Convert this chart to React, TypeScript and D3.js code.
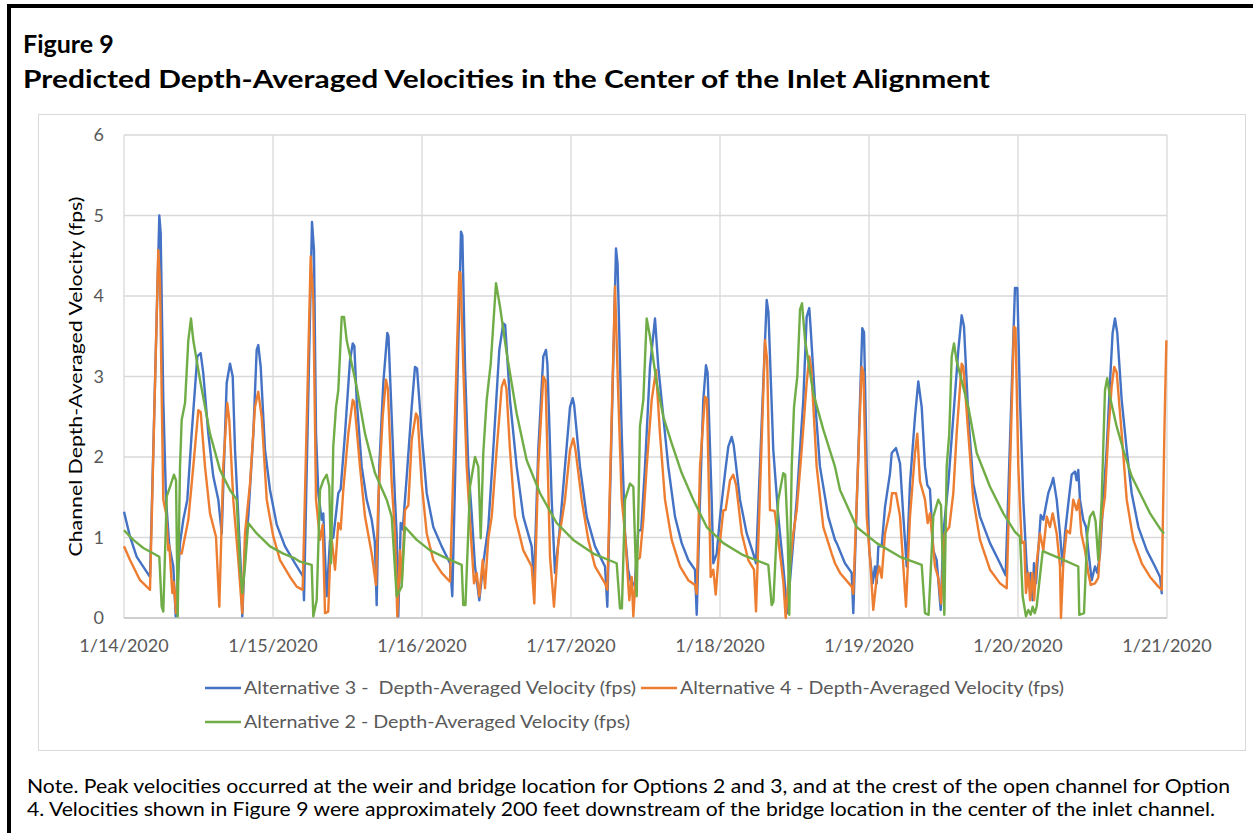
import React from 'react';
import * as d3 from 'd3';

// hours after 1/14/2020 00:00, velocity (fps)
const alt3Points: [number, number][] = [
  [0, 1.32], [0.97, 1.01], [2.05, 0.76], [4.19, 0.51], [5.69, 5.0], [5.91, 4.78], [6.33, 2.71], [6.77, 1.47],
  [7.3, 0.89], [7.94, 0.64], [8.33, 0.02], [9.02, 0.93], [9.55, 1.22], [10.2, 1.47], [10.9, 2.29], [11.81, 3.25],
  [12.35, 3.29], [12.77, 3.04], [13.58, 2.29], [14.38, 1.76], [15.19, 1.47], [15.74, 1.05], [16.54, 2.92], [17.07, 3.16],
  [17.51, 3.0], [17.88, 2.09], [18.41, 1.26], [18.8, 0.64], [19.05, 0.02], [19.49, 0.84], [20.02, 1.26], [20.83, 2.29],
  [21.37, 3.33], [21.63, 3.39], [22.02, 3.12], [22.71, 2.09], [23.52, 1.59], [24.6, 1.16], [25.93, 0.89], [27.54, 0.68],
  [28.88, 0.51], [28.99, 0.22], [30.28, 4.92], [30.6, 4.57], [30.93, 2.29], [31.3, 1.55], [31.84, 1.22], [32.1, 1.3],
  [32.65, 0.27], [33.18, 0.97], [33.71, 1.0], [34.52, 1.55], [34.9, 1.6], [35.6, 2.29], [36.4, 3.2], [36.84, 3.41],
  [37.1, 3.38], [37.48, 2.71], [38.29, 1.88], [39.09, 1.47], [39.9, 1.22], [40.4, 0.95], [40.7, 0.16], [41.12, 1.88],
  [41.77, 2.92], [42.41, 3.54], [42.6, 3.5], [43.12, 2.5], [43.65, 1.47], [43.92, 1.05], [44.18, 0.02], [44.57, 1.18],
  [44.9, 1.1], [45.54, 1.76], [46.34, 2.62], [46.87, 3.12], [47.2, 3.1], [47.95, 2.29], [48.76, 1.55], [49.82, 1.13],
  [51.17, 0.89], [52.51, 0.68], [52.88, 0.27], [54.28, 4.8], [54.5, 4.75], [54.93, 3.12], [55.46, 1.88], [56.0, 1.3],
  [56.54, 0.64], [57.23, 0.22], [57.87, 0.68], [58.68, 1.13], [59.48, 2.09], [60.45, 3.33], [61.09, 3.66], [61.4, 3.64],
  [62.17, 2.71], [63.25, 1.88], [64.32, 1.26], [65.67, 0.89], [66.04, 0.43], [66.73, 2.09], [67.54, 3.25], [67.97, 3.33],
  [68.2, 3.15], [68.89, 1.47], [69.42, 0.56], [70.12, 1.05], [71.03, 1.88], [71.84, 2.62], [72.27, 2.73], [72.5, 2.65],
  [73.45, 1.88], [74.53, 1.26], [75.87, 0.89], [77.48, 0.64], [77.85, 0.14], [79.25, 4.59], [79.5, 4.4], [80.17, 2.29],
  [80.7, 1.05], [81.2, 0.6], [81.78, 0.39], [82.3, 0.45], [82.84, 1.09], [83.3, 1.09], [83.92, 1.88], [84.72, 3.12],
  [85.53, 3.72], [86.06, 3.12], [86.87, 2.5], [87.67, 1.88], [88.75, 1.26], [89.83, 0.93], [90.89, 0.72], [91.97, 0.6],
  [92.25, 0.04], [92.78, 1.47], [93.31, 2.71], [93.74, 3.14], [94.0, 3.05], [94.66, 1.47], [94.92, 0.68], [95.47, 0.8],
  [96.01, 1.26], [96.81, 1.8], [97.34, 2.13], [97.88, 2.25], [98.2, 2.15], [99.22, 1.47], [100.3, 1.05], [101.36, 0.8],
  [101.8, 0.68], [103.52, 3.95], [103.8, 3.8], [104.58, 2.09], [105.39, 1.26], [106.19, 0.64], [106.84, 0.06], [107.2, 0.4],
  [108.36, 1.47], [109.42, 2.71], [109.96, 3.74], [110.38, 3.85], [110.6, 3.6], [111.3, 2.71], [112.1, 1.88], [113.44, 1.26],
  [114.52, 0.97], [114.8, 0.93], [116.13, 0.68], [117.21, 0.56], [117.47, 0.06], [118.92, 3.6], [119.2, 3.55], [119.63, 1.88],
  [120.05, 0.84], [120.6, 0.43], [120.96, 0.64], [121.24, 0.43], [121.5, 0.89], [122.04, 0.89], [122.58, 1.38], [123.39, 1.8],
  [123.66, 2.05], [124.35, 2.11], [125.0, 1.92], [125.53, 1.26], [126.07, 0.64], [126.6, 1.67], [127.41, 2.5], [127.94, 2.94],
  [128.49, 2.62], [129.02, 1.88], [129.39, 1.65], [129.82, 1.6], [130.36, 0.84], [130.9, 0.72], [131.55, 0.1], [131.97, 1.05],
  [132.77, 1.67], [133.58, 2.5], [134.39, 3.33], [134.93, 3.76], [135.3, 3.62], [136.0, 2.5], [136.8, 1.67], [137.88, 1.26],
  [139.49, 0.93], [141.1, 0.68], [142.01, 0.53], [143.51, 4.1], [143.89, 4.1], [144.32, 2.71], [144.85, 1.47], [145.4, 0.64],
  [145.67, 0.43], [146.04, 0.56], [146.36, 0.22], [146.57, 0.68], [146.9, 0.43], [147.27, 0.84], [147.66, 1.28], [148.08, 1.22],
  [148.51, 1.4], [148.88, 1.55], [149.42, 1.67], [149.68, 1.74], [150.23, 1.47], [150.76, 1.05], [151.2, 0.64], [151.57, 1.05],
  [152.1, 1.42], [152.65, 1.78], [153.18, 1.82], [153.44, 1.71], [153.71, 1.84], [153.98, 1.47], [154.51, 1.22], [154.95, 1.13],
  [155.32, 0.84], [155.87, 0.47], [156.4, 0.64], [156.77, 0.56], [157.21, 0.8], [157.74, 1.47], [158.28, 2.09], [158.81, 2.92],
  [159.24, 3.54], [159.62, 3.72], [159.99, 3.54], [160.7, 2.71], [161.51, 2.09], [162.31, 1.55], [163.39, 1.13], [164.74, 0.84],
  [166.07, 0.64], [166.88, 0.51], [167.15, 0.31], [167.3, 0.3],
];

const alt4Points: [number, number][] = [
  [0, 0.89], [0.97, 0.72], [2.58, 0.47], [4.19, 0.35], [5.52, 4.57], [5.8, 4.16], [6.33, 1.47], [6.77, 1.3],
  [7.14, 0.84], [7.3, 0.9], [7.78, 0.31], [8.0, 0.45], [8.38, 0.06], [8.75, 0.8], [9.29, 0.8], [10.36, 1.22],
  [11.16, 1.88], [11.97, 2.58], [12.35, 2.56], [13.05, 1.88], [13.85, 1.3], [14.82, 1.01], [15.35, 0.14], [15.99, 1.88],
  [16.64, 2.67], [16.96, 2.46], [17.6, 1.47], [18.41, 0.72], [18.8, 0.31], [19.05, 0.06], [19.49, 1.05], [20.3, 1.67],
  [21.1, 2.62], [21.63, 2.81], [22.18, 2.5], [22.99, 1.47], [24.05, 1.01], [25.13, 0.72], [26.74, 0.51], [27.82, 0.39],
  [28.78, 0.35], [30.07, 4.49], [30.49, 3.95], [30.93, 1.47], [31.57, 0.97], [32.0, 1.16], [32.38, 0.06], [32.9, 0.08],
  [33.18, 0.68], [33.5, 0.95], [33.99, 0.6], [34.52, 1.18], [34.9, 1.1], [35.32, 1.59], [36.13, 2.29], [36.84, 2.71],
  [37.1, 2.68], [38.01, 1.88], [38.82, 1.26], [39.9, 0.8], [40.59, 0.41], [40.96, 1.47], [41.67, 2.5], [42.2, 2.96],
  [42.5, 2.85], [43.12, 1.67], [43.65, 1.05], [44.02, 0.02], [44.46, 0.84], [44.73, 0.43], [45.26, 1.34], [45.8, 1.4],
  [46.34, 2.21], [47.03, 2.54], [47.3, 2.5], [47.95, 1.67], [48.76, 1.05], [49.82, 0.72], [51.17, 0.56], [52.51, 0.45],
  [54.01, 4.3], [54.2, 4.28], [54.65, 3.12], [55.2, 1.88], [55.73, 1.2], [56.38, 0.43], [56.81, 0.56], [57.23, 0.27],
  [57.78, 0.72], [58.15, 0.37], [58.68, 0.99], [59.23, 1.26], [60.03, 2.09], [60.84, 2.87], [61.25, 2.96], [61.6, 2.85],
  [62.17, 2.09], [62.98, 1.26], [64.32, 0.84], [65.67, 0.64], [66.09, 0.18], [66.73, 1.88], [67.54, 3.0], [67.9, 2.95],
  [68.62, 0.76], [69.26, 0.14], [69.95, 0.93], [71.03, 1.47], [71.84, 2.09], [72.37, 2.23], [72.7, 2.1], [73.72, 1.47],
  [74.79, 0.97], [75.87, 0.64], [77.48, 0.43], [77.85, 0.35], [79.09, 4.12], [79.6, 2.8], [80.17, 1.47], [80.7, 1.05],
  [81.39, 0.22], [81.78, 0.51], [82.04, 0.02], [82.58, 0.72], [83.1, 0.75], [83.65, 1.22], [84.19, 1.88], [85.0, 2.71],
  [85.69, 3.08], [86.33, 2.29], [87.14, 1.47], [88.22, 0.97], [89.55, 0.64], [90.89, 0.47], [91.97, 0.41], [92.25, 0.3],
  [92.78, 1.88], [93.58, 2.75], [93.9, 2.72], [94.5, 0.51], [94.92, 0.6], [95.31, 0.29], [95.8, 0.8], [96.54, 1.34],
  [96.9, 1.34], [97.61, 1.71], [98.14, 1.78], [98.6, 1.65], [99.5, 1.05], [100.56, 0.72], [101.48, 0.6], [101.8, 0.08],
  [103.25, 3.45], [103.6, 3.2], [104.05, 1.34], [104.8, 1.33], [105.66, 0.8], [106.2, 0.45], [106.58, 0.0], [107.0, 0.45],
  [107.81, 1.05], [108.36, 1.34], [109.16, 2.09], [109.96, 2.92], [110.38, 3.25], [110.7, 3.1], [111.57, 1.88], [112.64, 1.13],
  [113.99, 0.8], [114.52, 0.68], [115.33, 0.56], [117.21, 0.39], [117.47, 0.3], [118.82, 3.12], [119.1, 3.05], [119.63, 1.26],
  [120.2, 0.7], [120.69, 0.1], [121.24, 0.5], [121.66, 0.64], [122.04, 0.5], [122.58, 1.05], [123.39, 1.34], [123.71, 1.55],
  [124.35, 1.55], [125.0, 1.26], [125.53, 0.64], [125.96, 0.14], [126.6, 1.26], [127.41, 2.05], [127.78, 2.29], [128.2, 1.7],
  [129.02, 1.47], [129.45, 1.18], [129.82, 1.3], [130.63, 0.64], [131.16, 0.5], [131.6, 0.18], [132.2, 1.05], [132.93, 1.13],
  [133.58, 1.55], [134.12, 2.29], [134.93, 3.16], [135.2, 3.12], [136.0, 2.29], [136.8, 1.47], [137.88, 0.97], [139.49, 0.6],
  [141.1, 0.43], [142.18, 0.37], [143.35, 3.62], [143.6, 3.6], [144.05, 1.88], [144.59, 0.93], [145.0, 0.95], [145.28, 0.31],
  [145.67, 0.56], [145.95, 0.22], [146.3, 0.56], [146.6, 0.22], [147.0, 0.68], [147.54, 1.05], [148.08, 0.84], [148.63, 1.26],
  [149.15, 1.13], [149.59, 1.3], [150.23, 1.05], [150.76, 0.64], [150.92, 0.0], [151.3, 0.68], [151.84, 1.09], [152.37, 1.05],
  [152.9, 1.47], [153.44, 1.34], [153.8, 1.47], [154.2, 1.05], [154.79, 0.84], [155.32, 0.56], [155.71, 0.41], [156.4, 0.43],
  [156.93, 0.5], [157.48, 1.22], [158.01, 1.51], [158.54, 2.29], [159.08, 2.87], [159.5, 3.12], [159.9, 3.05], [160.7, 2.29],
  [161.51, 1.47], [162.58, 0.97], [163.93, 0.68], [165.27, 0.51], [166.61, 0.39], [167.15, 0.35], [167.6, 2.4], [167.9, 3.45],
];

const alt2Points: [number, number][] = [
  [0, 1.09], [1.5, 0.97], [3.11, 0.87], [5.69, 0.76], [6.07, 0.14], [6.33, 0.08], [6.88, 1.51], [7.41, 1.63],
  [8.05, 1.78], [8.38, 1.71], [8.65, 0.02], [9.02, 1.88], [9.29, 2.46], [9.83, 2.67], [10.36, 3.45], [10.79, 3.72],
  [11.16, 3.45], [12.24, 2.96], [13.85, 2.29], [15.46, 1.84], [17.07, 1.59], [18.15, 1.47], [18.68, 0.64], [19.05, 0.31],
  [19.49, 0.64], [20.02, 1.18], [21.37, 1.05], [23.52, 0.89], [25.66, 0.8], [27.54, 0.74], [28.35, 0.7], [30.23, 0.66],
  [30.49, 0.02], [31.04, 0.22], [31.57, 1.59], [32.1, 1.71], [32.65, 1.78], [33.07, 1.63], [33.34, 0.68], [33.71, 2.13],
  [34.15, 2.62], [34.52, 2.83], [35.07, 3.74], [35.44, 3.74], [35.87, 3.45], [37.48, 2.87], [38.82, 2.29], [40.43, 1.8],
  [42.31, 1.47], [43.12, 1.26], [43.92, 0.27], [44.73, 0.39], [45.26, 1.13], [47.15, 0.97], [49.29, 0.84], [51.98, 0.74],
  [54.39, 0.66], [54.65, 0.16], [55.0, 0.16], [55.73, 1.63], [56.54, 2.0], [57.07, 1.88], [57.46, 0.99], [57.87, 2.05],
  [58.42, 2.71], [59.07, 3.16], [59.92, 4.16], [60.56, 3.87], [61.64, 3.29], [63.25, 2.54], [64.86, 1.96], [67.01, 1.55],
  [69.69, 1.18], [72.37, 0.97], [75.59, 0.8], [79.36, 0.68], [79.89, 0.12], [80.2, 0.12], [80.7, 1.47], [81.5, 1.67],
  [82.04, 1.63], [82.58, 0.27], [83.11, 2.38], [83.65, 2.71], [84.19, 3.72], [84.72, 3.5], [85.8, 2.92], [86.87, 2.5],
  [88.22, 2.17], [89.83, 1.8], [91.7, 1.47], [93.86, 1.13], [96.54, 0.93], [99.75, 0.78], [103.78, 0.66], [104.32, 0.16],
  [104.6, 0.2], [105.39, 1.47], [106.19, 1.8], [106.5, 1.78], [106.9, 1.05], [107.16, 0.04], [107.55, 1.88], [107.92, 2.62],
  [108.45, 3.0], [108.89, 3.83], [109.21, 3.91], [109.7, 3.45], [111.03, 2.79], [112.64, 2.34], [114.52, 1.88], [115.33, 1.59],
  [118.01, 1.13], [121.24, 0.93], [125.0, 0.76], [128.49, 0.66], [129.02, 0.06], [129.6, 0.04], [130.36, 1.26], [131.16, 1.47],
  [131.6, 1.4], [132.13, 0.04], [132.51, 1.88], [132.93, 2.29], [133.32, 3.25], [133.69, 3.41], [134.1, 3.2], [136.0, 2.62],
  [137.35, 2.05], [139.49, 1.63], [141.63, 1.3], [143.51, 1.07], [144.32, 1.01], [144.75, 0.27], [145.28, 0.02], [145.67, 0.1],
  [146.04, 0.04], [146.36, 0.14], [146.7, 0.06], [147.0, 0.14], [147.98, 0.83], [150.76, 0.74], [153.71, 0.64], [153.87, 0.04],
  [154.63, 0.06], [155.16, 1.05], [155.59, 1.26], [156.13, 1.32], [156.5, 1.2], [156.93, 0.72], [157.48, 1.47], [158.01, 2.83],
  [158.37, 2.98], [158.8, 2.75], [159.89, 2.38], [160.96, 2.09], [162.31, 1.76], [163.66, 1.55], [165.27, 1.3], [166.88, 1.11],
  [167.52, 1.05],
];

const xTickHours = [0, 24, 48, 72, 96, 120, 144, 168];
const xTickLabels = ['1/14/2020', '1/15/2020', '1/16/2020', '1/17/2020', '1/18/2020', '1/19/2020', '1/20/2020', '1/21/2020'];
const yTicks = [0, 1, 2, 3, 4, 5, 6];

const seriesNames = [
  'Alternative 3 -  Depth-Averaged Velocity (fps)',
  'Alternative 4 - Depth-Averaged Velocity (fps)',
  'Alternative 2 - Depth-Averaged Velocity (fps)',
];
const seriesColors = ['#4472C4', '#ED7D31', '#70AD47'];

const FONT = 'Lato, "Open Sans", sans-serif';

const App = () => {
  const W = 1253;
  const H = 833;
  const left = 124, right = 1167, top = 135, bottom = 618;

  const x = d3.scaleLinear().domain([0, 168]).range([left, right]);
  const y = d3.scaleLinear().domain([0, 6]).range([bottom, top]);

  const line = d3.line<[number, number]>()
    .x(d => x(d[0]))
    .y(d => y(d[1]));

  const series = [alt3Points, alt4Points, alt2Points];

  return (
    <svg width={W} height={H} style={{ position: 'absolute', left: 0, top: 0, background: '#fff' }}>
      <rect x={9} y={6} width={W + 10} height={H + 10} fill="none" stroke="#000" strokeWidth={4} />

      <text x={23} y={53} fontFamily={FONT} fontWeight="bold" fontSize={25} fill="#000">Figure 9</text>
      <text x={23} y={88} fontFamily={FONT} fontWeight="bold" fontSize={25} fill="#000"
        textLength={967} lengthAdjust="spacingAndGlyphs">
        Predicted Depth-Averaged Velocities in the Center of the Inlet Alignment
      </text>

      <rect x={38.5} y={114.5} width={1207} height={636} fill="#fff" stroke="#d9d9d9" strokeWidth={1} />

      {yTicks.map(t => (
        <line key={'gy' + t} x1={left} x2={right} y1={y(t)} y2={y(t)}
          stroke={t === 0 ? '#bfbfbf' : '#d9d9d9'} strokeWidth={t === 0 ? 1.5 : 1.3} />
      ))}
      {xTickHours.map(h => (
        <line key={'gx' + h} x1={x(h)} x2={x(h)} y1={top} y2={bottom} stroke="#d9d9d9" strokeWidth={1.3} />
      ))}

      {yTicks.map(t => (
        <text key={'ty' + t} x={104} y={y(t)} dy="0.35em" textAnchor="end" fontFamily={FONT} fontSize={18} fill="#595959">{t}</text>
      ))}
      {xTickHours.map((h, i) => (
        <text key={'tx' + h} x={x(h)} y={646} dy="0.35em" textAnchor="middle" fontFamily={FONT} fontSize={18} fill="#595959">{xTickLabels[i]}</text>
      ))}

      <text transform={`translate(82,${(top + bottom) / 2}) rotate(-90)`} textAnchor="middle" fontFamily={FONT} fontSize={17} fill="#000"
        textLength={360} lengthAdjust="spacingAndGlyphs">
        Channel Depth-Averaged Velocity (fps)
      </text>

      <g>
        {series.map((s, i) => (
          <path key={'s' + i} d={line(s) || ''} fill="none" stroke={seriesColors[i]} strokeWidth={2.4} strokeLinejoin="round" />
        ))}
      </g>

      {[
        { lx: 205, ly: 688, w: 392 },
        { lx: 641, ly: 688, w: 384 },
        { lx: 205, ly: 722, w: 386 },
      ].map((p, i) => (
        <g key={'lg' + i}>
          <line x1={p.lx} x2={p.lx + 36} y1={p.ly} y2={p.ly} stroke={seriesColors[i]} strokeWidth={2.4} />
          <text x={p.lx + 39} y={p.ly} dy="0.35em" fontFamily={FONT} fontSize={17} fill="#595959"
            textLength={p.w} lengthAdjust="spacingAndGlyphs" style={{ whiteSpace: 'pre' }}>{seriesNames[i]}</text>
        </g>
      ))}

      <text x={27} y={793} fontFamily={FONT} fontSize={20} fill="#000" textLength={1203} lengthAdjust="spacingAndGlyphs">
        Note. Peak velocities occurred at the weir and bridge location for Options 2 and 3, and at the crest of the open channel for Option
      </text>
      <text x={27} y={816} fontFamily={FONT} fontSize={20} fill="#000" textLength={1188} lengthAdjust="spacingAndGlyphs">
        4. Velocities shown in Figure 9 were approximately 200 feet downstream of the bridge location in the center of the inlet channel.
      </text>
    </svg>
  );
};

export default App;
